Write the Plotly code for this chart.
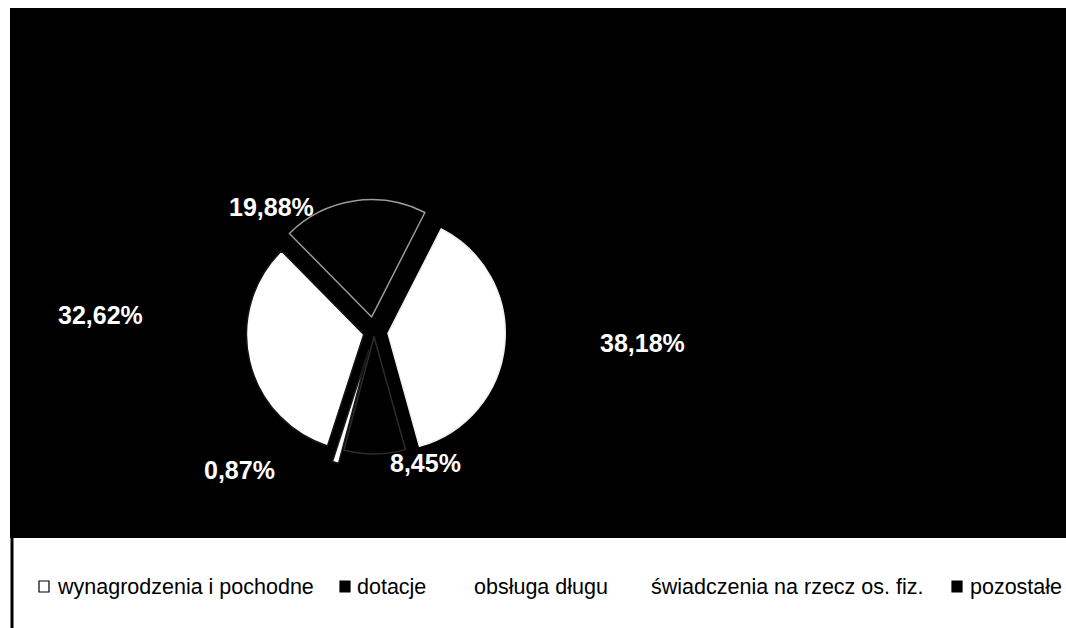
import plotly.graph_objects as go

# ---------------- data ----------------
categories = ["wynagrodzenia i pochodne", "dotacje", "obsługa długu",
              "świadczenia na rzecz os. fiz.", "pozostałe"]
values = [32.62, 19.88, 38.18, 8.45, 0.87]

# ---------------- styles ----------------
slice_colors = ["#ffffff", "#000000", "#ffffff", "#000000", "#ffffff"]
slice_lines = ["#151515", "#9a9a9a", "#f0f0f0", "#2c2c2c", "#1a1a1a"]
pulls = [0.09, 0.13, 0.12, 0.04, 0.16]
legend_marker_fill = ["#ffffff", "#000000", None, None, "#000000"]

# positions (pixels in the 1066x628 canvas)
W, H = 1066, 628
label_px = [(100, 315), (271, 207), (642, 343), (425, 463), (239, 470)]
legend_text_x = [55, 355, 472, 649, 968]
legend_marker_x = [39, 340, None, None, 952]
legend_y = 587
pie_center = (374, 332)
pie_half = 136


def px(x):
    return x / W


def py(y):
    return 1 - y / H


fig = go.Figure()
fig.add_trace(go.Pie(
    labels=categories,
    values=values,
    sort=False,
    direction="clockwise",
    rotation=198,
    pull=pulls,
    marker=dict(colors=slice_colors, line=dict(color=slice_lines, width=1.5)),
    textinfo="none",
    hoverinfo="label+percent",
    showlegend=False,
    domain=dict(x=[px(pie_center[0] - pie_half), px(pie_center[0] + pie_half)],
                y=[py(pie_center[1] + pie_half), py(pie_center[1] - pie_half)]),
))

annotations = []
total = sum(values)
for v, (lx, ly) in zip(values, label_px):
    txt = f"{v / total * 100:.2f}%".replace(".", ",")
    annotations.append(dict(
        x=px(lx), y=py(ly), xref="paper", yref="paper",
        text=f"<b>{txt}</b>", showarrow=False,
        xanchor="center", yanchor="middle",
        font=dict(family="Liberation Sans, Arial", size=25, color="white"),
    ))

shapes = [
    # black chart area
    dict(type="rect", xref="paper", yref="paper", layer="below",
         x0=px(10), x1=1.0, y0=py(538), y1=py(8),
         fillcolor="black", line=dict(width=0)),
    # left border of legend box
    dict(type="line", xref="paper", yref="paper", layer="below",
         x0=px(12), x1=px(12), y0=0, y1=py(538),
         line=dict(color="black", width=3)),
]

for name, tx, mx, fill in zip(categories, legend_text_x, legend_marker_x, legend_marker_fill):
    annotations.append(dict(
        x=px(tx), y=py(legend_y), xref="paper", yref="paper",
        text=name, showarrow=False, xanchor="left", yanchor="middle",
        font=dict(family="Liberation Sans, Arial", size=21.5, color="black"),
    ))
    if mx is not None and fill is not None:
        shapes.append(dict(
            type="rect", xref="paper", yref="paper",
            x0=px(mx), x1=px(mx + 10), y0=py(legend_y + 5), y1=py(legend_y - 6),
            fillcolor=fill, line=dict(color="black", width=1.2),
        ))

fig.update_layout(
    width=W, height=H,
    margin=dict(l=0, r=0, t=0, b=0),
    paper_bgcolor="white",
    plot_bgcolor="white",
    shapes=shapes,
    annotations=annotations,
    showlegend=False,
)

fig.write_html("out.html",
               config={"displayModeBar": False},
               post_script="document.body.style.margin='0';"
                           "document.body.style.overflow='hidden';")
